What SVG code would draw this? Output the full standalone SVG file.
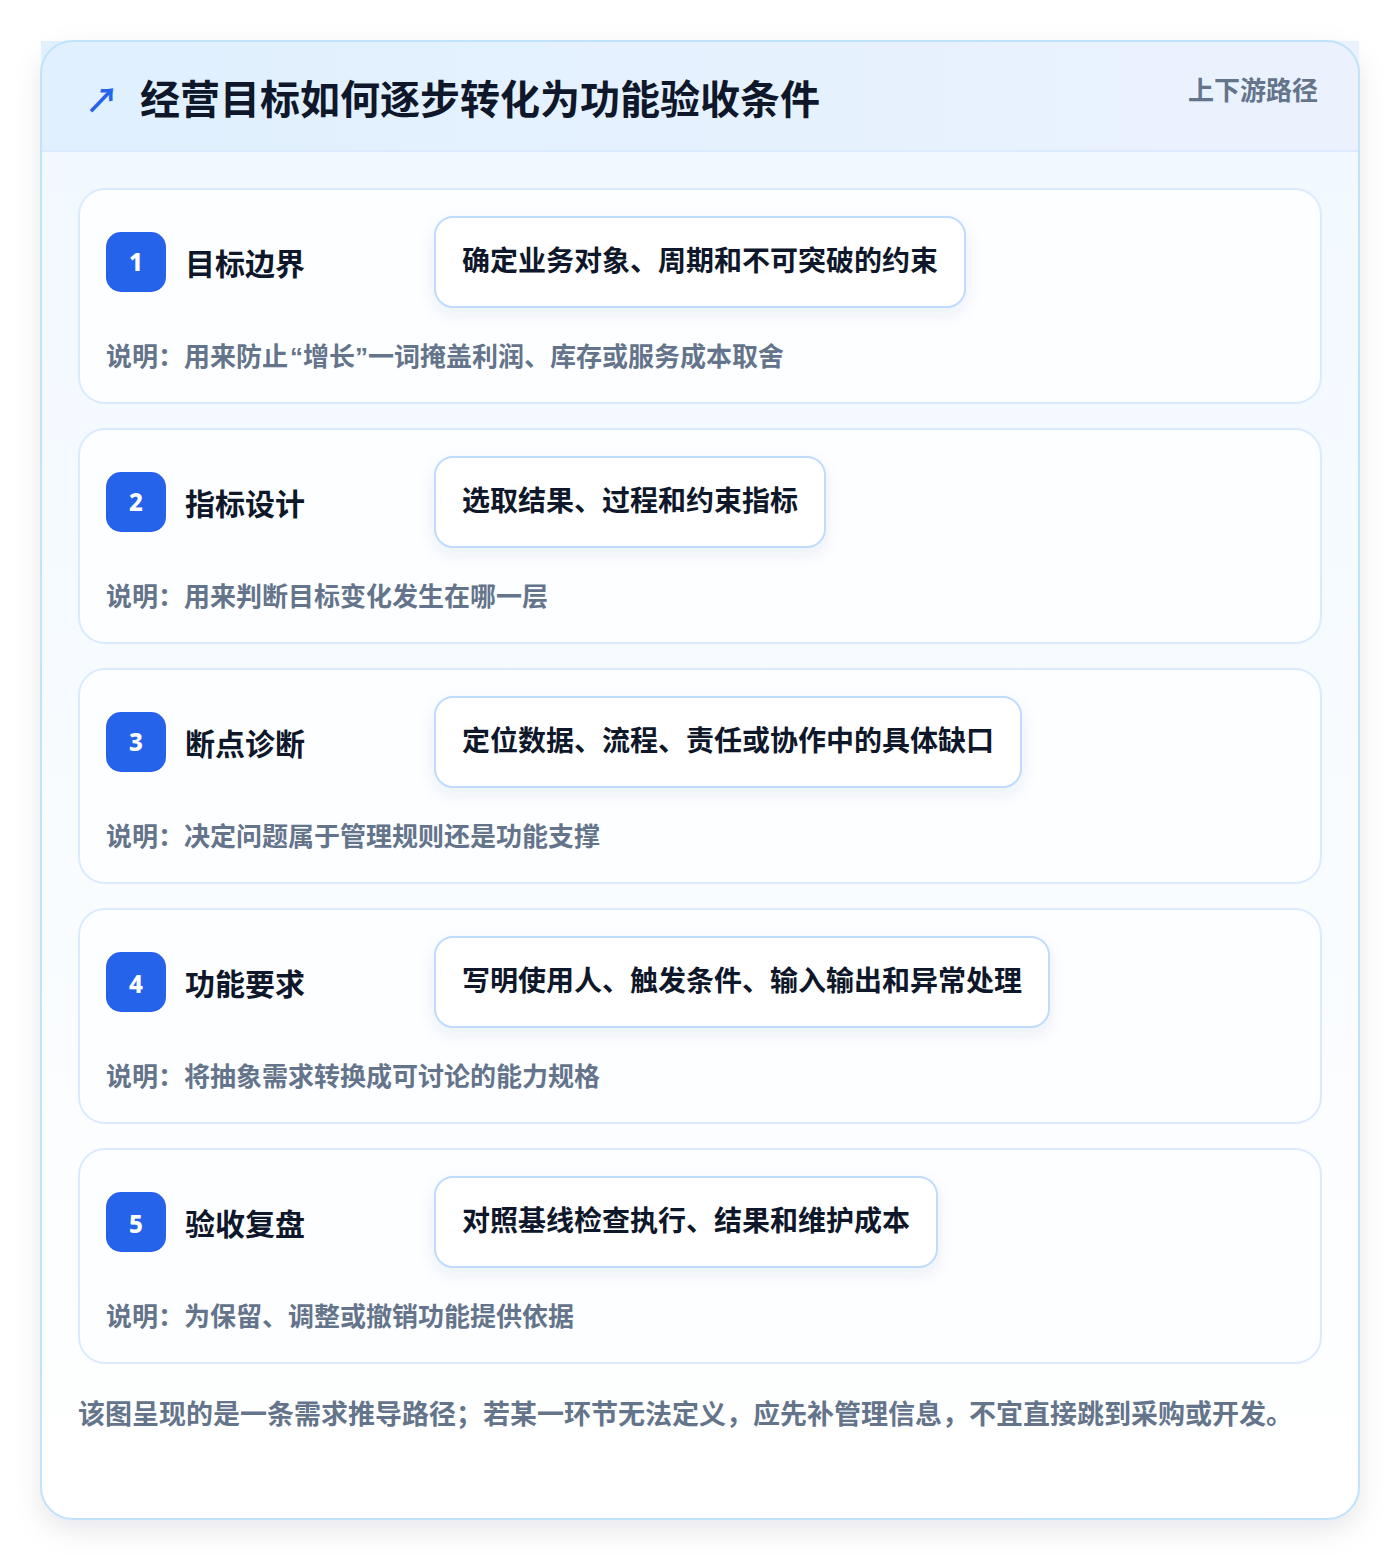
<svg xmlns="http://www.w3.org/2000/svg" width="1400" height="1560" viewBox="0 0 1400 1560">
<defs>
<linearGradient id="hdr" x1="0" y1="0" x2="1" y2="0"><stop offset="0" stop-color="#e0f0fe"/><stop offset="1" stop-color="#ebf2fe"/></linearGradient>
<linearGradient id="card" x1="0" y1="0" x2="0" y2="1"><stop offset="0" stop-color="#f0f8ff"/><stop offset="1" stop-color="#ffffff"/></linearGradient>
<filter id="sh" x="-10%" y="-10%" width="120%" height="120%"><feDropShadow dx="0" dy="10" stdDeviation="14" flood-color="#0f172a" flood-opacity="0.10"/></filter>
<filter id="bsh" x="-10%" y="-20%" width="120%" height="150%"><feDropShadow dx="0" dy="6" stdDeviation="8" flood-color="#1e3a8a" flood-opacity="0.08"/></filter>
<style>
text{font-family:"Noto Sans CJK SC","Noto Sans",sans-serif;font-weight:700}
.step{fill:#fdfeff;stroke:#dbeafe;stroke-width:2}
.badge{fill:#2563eb}
.num{fill:#ffffff;font-size:24px;text-anchor:middle;font-family:"Noto Sans","Noto Sans CJK SC",sans-serif;font-weight:800}
.ttl{fill:#0f172a;font-size:30px}
.box{fill:#ffffff;stroke:#bfdbfe;stroke-width:2}
.bt{fill:#0f172a;font-size:28px}
.desc{fill:#64748b;font-size:26px}
.q{font-family:"Liberation Sans",sans-serif}
</style>
</defs>
<rect width="1400" height="1560" fill="#ffffff"/>
<g id="frame">
<rect x="41" y="41" width="1318" height="1478" rx="32" fill="url(#card)" filter="url(#sh)"/>
<rect x="41" y="41" width="1318" height="110" fill="url(#hdr)"/>
<line x1="41" y1="151" x2="1359" y2="151" stroke="#dbeafe" stroke-width="2"/>
<rect x="41" y="41" width="1318" height="1478" rx="32" fill="none" stroke="#bfe3fb" stroke-width="2"/>
<text x="85" y="113" font-size="34" fill="#2563eb" font-family="DejaVu Sans,sans-serif" font-weight="700">↗</text>
<text x="140" y="114" font-size="40" fill="#0f172a">经营目标如何逐步转化为功能验收条件</text>
<text x="1318" y="100" font-size="26" fill="#64748b" text-anchor="end">上下游路径</text>
</g>
<g id="connectors"></g>
<g id="step1">
<rect class="step" x="79" y="189" width="1242" height="214" rx="26"/>
<rect class="badge" x="106" y="232" width="60" height="60" rx="15"/>
<text class="num" x="136" y="271">1</text>
<text class="ttl" x="185" y="275">目标边界</text>
<rect class="box" x="435" y="217" width="530" height="90" rx="18" filter="url(#bsh)"/>
<text class="bt" x="462" y="271">确定业务对象、周期和不可突破的约束</text>
<text class="desc" x="106" y="366">说明：用来防止<tspan class="q" dx="2">“</tspan>增长<tspan class="q">”</tspan>一词掩盖利润、库存或服务成本取舍</text>
</g>
<g id="step2">
<rect class="step" x="79" y="429" width="1242" height="214" rx="26"/>
<rect class="badge" x="106" y="472" width="60" height="60" rx="15"/>
<text class="num" x="136" y="511">2</text>
<text class="ttl" x="185" y="515">指标设计</text>
<rect class="box" x="435" y="457" width="390" height="90" rx="18" filter="url(#bsh)"/>
<text class="bt" x="462" y="511">选取结果、过程和约束指标</text>
<text class="desc" x="106" y="606">说明：用来判断目标变化发生在哪一层</text>
</g>
<g id="step3">
<rect class="step" x="79" y="669" width="1242" height="214" rx="26"/>
<rect class="badge" x="106" y="712" width="60" height="60" rx="15"/>
<text class="num" x="136" y="751">3</text>
<text class="ttl" x="185" y="755">断点诊断</text>
<rect class="box" x="435" y="697" width="586" height="90" rx="18" filter="url(#bsh)"/>
<text class="bt" x="462" y="751">定位数据、流程、责任或协作中的具体缺口</text>
<text class="desc" x="106" y="846">说明：决定问题属于管理规则还是功能支撑</text>
</g>
<g id="step4">
<rect class="step" x="79" y="909" width="1242" height="214" rx="26"/>
<rect class="badge" x="106" y="952" width="60" height="60" rx="15"/>
<text class="num" x="136" y="993">4</text>
<text class="ttl" x="185" y="995">功能要求</text>
<rect class="box" x="435" y="937" width="614" height="90" rx="18" filter="url(#bsh)"/>
<text class="bt" x="462" y="991">写明使用人、触发条件、输入输出和异常处理</text>
<text class="desc" x="106" y="1086">说明：将抽象需求转换成可讨论的能力规格</text>
</g>
<g id="step5">
<rect class="step" x="79" y="1149" width="1242" height="214" rx="26"/>
<rect class="badge" x="106" y="1192" width="60" height="60" rx="15"/>
<text class="num" x="136" y="1233">5</text>
<text class="ttl" x="185" y="1235">验收复盘</text>
<rect class="box" x="435" y="1177" width="502" height="90" rx="18" filter="url(#bsh)"/>
<text class="bt" x="462" y="1231">对照基线检查执行、结果和维护成本</text>
<text class="desc" x="106" y="1326">说明：为保留、调整或撤销功能提供依据</text>
</g>
<g id="footer">
<text x="78" y="1424" font-size="27" fill="#64748b">该图呈现的是一条需求推导路径；若某一环节无法定义，应先补管理信息，不宜直接跳到采购或开发。</text>
</g>
</svg>
